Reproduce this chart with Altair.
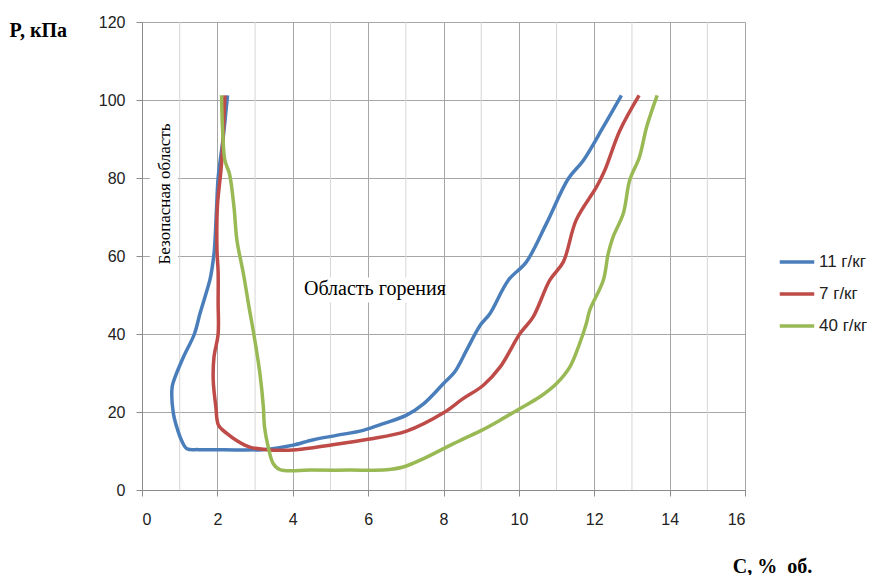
import altair as alt
import pandas as pd

# ---- data ----
s11_x = [2.27, 2.15, 2.02, 1.98, 1.92, 1.85, 1.80, 1.54, 1.39, 1.10, 0.88, 0.80, 0.83, 0.92, 1.05, 1.19,
         1.5, 2.2, 3.2, 3.6, 4.01, 4.55, 5.16, 5.87, 6.40, 7.02, 7.47, 8.0, 8.3, 8.61, 8.97, 9.23,
         9.72, 10.20, 10.73, 11.31, 11.71, 12.24, 12.72]
s11_y = [101.2, 90, 80, 72.6, 61.5, 56.3, 53.8, 45.3, 40, 34.1, 29, 26.4, 19.8, 16.2, 12.7, 10.6,
         10.35, 10.3, 10.35, 10.8, 11.5, 12.9, 14.0, 15.3, 17, 19.2, 22.1, 27.3, 30.3, 35.8, 42.2, 45.2,
         53.8, 58.5, 68.3, 79.8, 84.5, 93.1, 101.2]

s7_x = [2.20, 2.11, 2.0, 1.99, 2.02, 2.02, 2.02, 1.91, 1.89, 1.96, 2.03, 2.25, 2.51, 2.86, 3.31,
        4.10, 4.99, 6.0, 7.02, 8.0, 8.5, 9.05, 9.50, 10.03, 10.38, 10.82, 11.18, 11.52, 12.06,
        12.28, 12.68, 13.19]
s7_y = [101.2, 83.7, 72.6, 61.5, 56, 48, 40, 34.1, 28.1, 21.3, 16.6, 14.5, 12.7, 11.0, 10.35,
        10.35, 11.5, 13.0, 15.1, 19.8, 23.3, 26.8, 31.5, 40.1, 44.4, 53.8, 58.5, 69.2, 77.7,
        82, 92.2, 101.2]

s40_x = [2.11, 2.14, 2.20, 2.32, 2.44, 2.52, 2.69, 2.84, 2.97, 3.13, 3.22, 3.25, 3.35, 3.48, 3.66,
         4.5, 5.5, 6.49, 6.93, 7.46, 8.0, 8.5, 9.01, 9.5, 10.03, 10.56, 11.0, 11.35, 11.61, 11.79,
         11.88, 12.24, 12.37, 12.50, 12.77, 12.94, 13.2, 13.39, 13.67]
s40_y = [101.2, 92, 84.5, 81.1, 72.6, 64, 55.5, 46.9, 39.8, 29.8, 21.3, 16.2, 11.0, 6.8, 5.2,
         5.1, 5.1, 5.2, 5.9, 8.0, 10.6, 13, 15.3, 17.9, 20.9, 23.9, 27.3, 31.5, 37.5, 42.7,
         46.1, 53.8, 60.6, 64.9, 70.9, 79.4, 85.4, 93.1, 101.2]

series_names = ["11 г/кг", "7 г/кг", "40 г/кг"]
series_colors = ["#4A7EBB", "#BE4B48", "#98B954"]

x_major = [0, 2, 4, 6, 8, 10, 12, 14, 16]
x_minor = [1, 3, 5, 7, 9, 11, 13, 15]
y_ticks = [0, 20, 40, 60, 80, 100, 120]

notes_text = ["Безопасная область", "Область горения"]
notes_x = [0.61, 6.18]
notes_y = [75.9, 51.6]
box_x = [0.21, 4.05]
box_x2 = [0.95, 8.0]
box_y = [55.0, 48.1]
box_y2 = [96.8, 54.5]

# ---- build tables ----
rows = []
for name, xs, ys in zip(series_names, [s11_x, s7_x, s40_x], [s11_y, s7_y, s40_y]):
    for i, (a, b) in enumerate(zip(xs, ys)):
        rows.append({"series": name, "C": a, "P": b, "i": i})
df = pd.DataFrame(rows)
df_minor = pd.DataFrame({"C": x_minor})
df_box = pd.DataFrame({"C": box_x, "C2": box_x2, "P": box_y, "P2": box_y2})
df_note1 = pd.DataFrame({"C": notes_x[:1], "P": notes_y[:1], "t": notes_text[:1]})
df_note2 = pd.DataFrame({"C": notes_x[1:], "P": notes_y[1:], "t": notes_text[1:]})

xscale = alt.Scale(domain=[0, 16], nice=False, zero=False)
yscale = alt.Scale(domain=[0, 120], nice=False)

xaxis = alt.Axis(values=x_major, grid=True, gridColor="#a6a6a6", gridWidth=1,
                 domainColor="#8c8c8c", tickColor="#8c8c8c", tickSize=6,
                 labelFont="Liberation Sans", labelFontSize=16, labelColor="#222",
                 labelPadding=15, title="C, %\u00a0 об.", titleFont="Liberation Serif",
                 titleFontSize=20, titleFontWeight="bold", titleColor="#000",
                 titleX=630, titleY=76, titleAlign="center", titleBaseline="middle")
yaxis = alt.Axis(values=y_ticks, grid=True, gridColor="#a6a6a6", gridWidth=1,
                 domainColor="#8c8c8c", tickColor="#8c8c8c", tickSize=6,
                 labelFont="Liberation Sans", labelFontSize=16, labelColor="#222",
                 labelPadding=11, title="P, кПа", titleFont="Liberation Serif",
                 titleFontSize=20, titleFontWeight="bold", titleColor="#000",
                 titleAngle=0, titleX=-133, titleY=8, titleAlign="left", titleBaseline="middle")

X = alt.X("C:Q", scale=xscale, axis=xaxis)
Y = alt.Y("P:Q", scale=yscale, axis=yaxis)

minor = alt.Chart(df_minor).mark_rule(color="#d6d6d6", strokeWidth=1).encode(
    x=X, y=alt.value(0), y2=alt.value(468))

boxes = alt.Chart(df_box).mark_rect(color="white").encode(
    x=X, x2="C2:Q", y=Y, y2="P2:Q")

note1 = alt.Chart(df_note1).mark_text(font="Liberation Serif", fontSize=17, angle=270,
                                      color="#000", baseline="middle", align="center").encode(
    x=X, y=Y, text="t:N")
note2 = alt.Chart(df_note2).mark_text(font="Liberation Serif", fontSize=20,
                                      color="#000", baseline="middle", align="center").encode(
    x=X, y=Y, text="t:N")

lines = alt.Chart(df).mark_line(strokeWidth=3.5, interpolate="catmull-rom").encode(
    x=X, y=Y,
    color=alt.Color("series:N", scale=alt.Scale(domain=series_names, range=series_colors),
                    legend=alt.Legend(title=None, orient="none", legendX=636, legendY=221,
                                      symbolType="stroke", symbolSize=1190, symbolStrokeWidth=3.5,
                                      labelFont="Liberation Sans", labelFontSize=17,
                                      labelColor="#222", labelOffset=3, rowPadding=5)),
    order="i:Q",
)

chart = alt.layer(minor, boxes, note1, note2, lines).properties(
    width=603, height=468,
    autosize=alt.AutoSizeParams(type="none"),
    padding={"left": 134, "top": 14, "right": 122, "bottom": 85},
).configure_view(stroke=None).configure(background="white")

chart.save("out.html", embed_options={"renderer": "svg", "actions": False})
